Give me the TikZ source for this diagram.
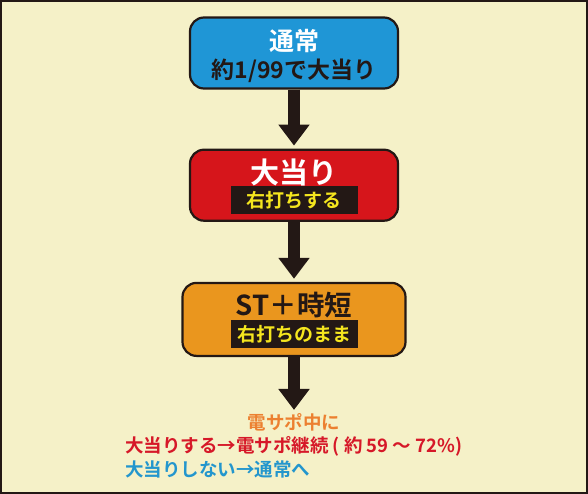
\documentclass[tikz,border=0pt]{standalone}
\usepackage{fontspec}
\setmainfont{Noto Sans CJK JP}[BoldFont={Noto Sans CJK JP Bold}]
\usetikzlibrary{arrows.meta, positioning}
\definecolor{bgcream}{RGB}{245,241,200}
\definecolor{inkdark}{RGB}{35,24,21}
\definecolor{flowblue}{RGB}{31,150,214}
\definecolor{flowred}{RGB}{214,21,27}
\definecolor{floworange}{RGB}{234,150,30}
\definecolor{tagyellow}{RGB}{245,230,30}
\definecolor{noteorange}{RGB}{236,128,48}
\definecolor{notered}{RGB}{214,24,40}
\definecolor{noteblue}{RGB}{35,150,205}
\tikzset{
  stagebox/.style={rectangle, draw=inkdark, line width=2.2pt, rounded corners=14pt, minimum width=208pt, minimum height=71pt},
  titletext/.style={font=\bfseries\fontsize{25}{29}\selectfont, inner sep=0pt},
  subtext/.style={font=\bfseries\fontsize{23}{27}\selectfont, text=inkdark, inner sep=0pt},
  tagbox/.style={rectangle, fill=inkdark, text=tagyellow, minimum width=127pt, minimum height=28pt, inner xsep=4pt, inner ysep=0pt, font=\bfseries\fontsize{19}{23}\selectfont},
  notetext/.style={font=\bfseries\fontsize{18.5}{22}\selectfont, inner sep=0pt},
  bigarr/.style={-{Triangle[width=30pt, length=21pt]}, line width=12pt, draw=inkdark, shorten >=3pt},
}
\begin{document}
\begin{tikzpicture}[x=1pt, y=-1pt]
  % Frame
  \fill[bgcream] (0,0) rectangle (588,494);
  \draw[inkdark, line width=2pt] (1,1) rectangle (587,493);
  \useasboundingbox (0,0) rectangle (588,494);

  % Nodes
  \node[stagebox, fill=flowblue] (normal) at (294,53) {};
  \node[stagebox, fill=flowred, below=59pt of normal] (hit) {};
  \node[stagebox, fill=floworange, minimum width=223pt, minimum height=73pt, below=60pt of hit] (sttime) {};

  \node[titletext, text=white] (normaltitle) at ([yshift=-25pt]normal.north) {通常};
  \node[subtext] (normalsub) at ([yshift=-54pt]normal.north) {約1/99で大当り};
  \node[titletext, text=white, font=\bfseries\fontsize{29}{33}\selectfont] (hittitle) at ([yshift=-24pt]hit.north) {大当り};
  \node[tagbox] (hittag) at ([yshift=-51.5pt]hit.north) {右打ちする};
  \node[titletext, text=inkdark, font=\bfseries\fontsize{27.5}{31}\selectfont] (sttitle) at ([yshift=-23pt]sttime.north) {ST＋時短};
  \node[tagbox] (sttag) at ([yshift=-52.5pt]sttime.north) {右打ちのまま};

  \node[notetext, text=noteorange] (during) at (294,422) {電サポ中に};
  \node[notetext, text=notered, anchor=west] (cont) at (125,446) {大当りする→電サポ継続 ( 約 59 ～ 72\%)};
  \node[notetext, text=noteblue, below=4pt of cont.south west, anchor=north west] (back) {大当りしない→通常へ};

  % Arrows
  \draw[bigarr] (normal) -- (hit);
  \draw[bigarr] (hit) -- (sttime);
  \draw[bigarr] (sttime) -- (during);
\end{tikzpicture}
\end{document}
